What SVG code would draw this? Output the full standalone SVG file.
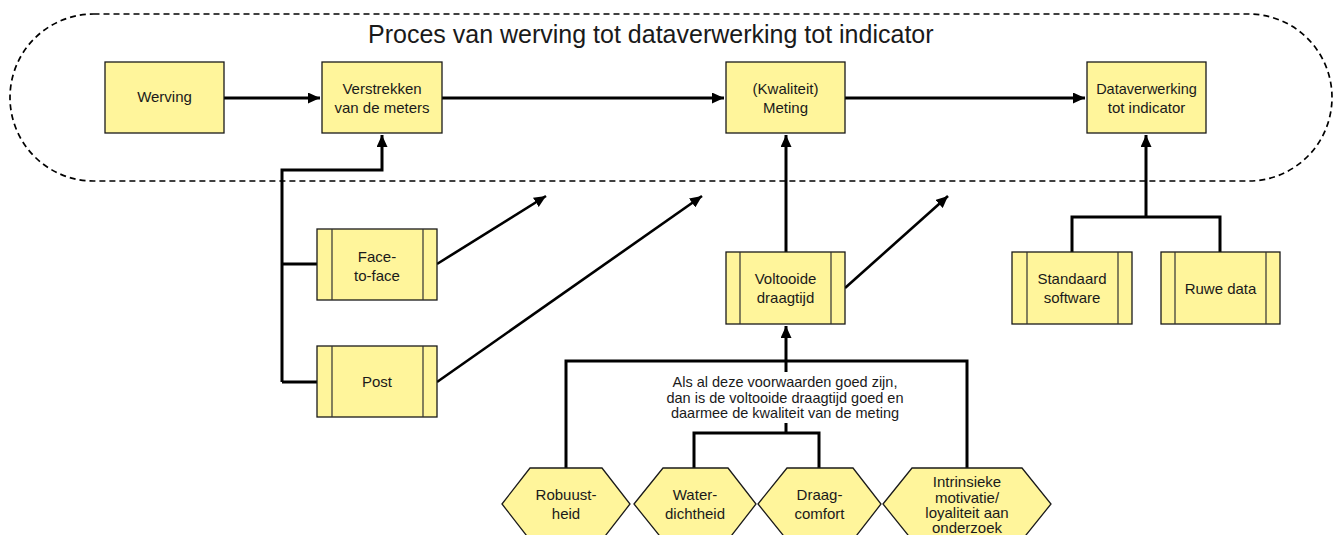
<svg xmlns="http://www.w3.org/2000/svg" width="1338" height="535" viewBox="0 0 1338 535">
<style>
  .t{font-family:"Liberation Sans",Arial,sans-serif;font-size:15px;fill:#1a1a1a;text-anchor:middle}
  .s{font-size:14.5px}
  .title{font-family:"Liberation Sans",Arial,sans-serif;font-size:25px;fill:#1a1a1a}
  .box{fill:#fff59b;stroke:#1a1a1a;stroke-width:1.3}
  .bar{stroke:#333;stroke-width:1.2;fill:none}
  .c{fill:none;stroke:#000;stroke-width:3}
  .d{fill:none;stroke:#000;stroke-width:2.6}
</style>
<defs>
  <marker id="ah" markerUnits="userSpaceOnUse" markerWidth="13" markerHeight="11" refX="12" refY="5.5" orient="auto">
    <path d="M0,0 L12,5.5 L0,11 z" fill="#000"/>
  </marker>
</defs>
<rect width="1338" height="535" fill="#fff"/>
<g id="process-boundary">
  <rect x="10" y="14" width="1322" height="167" rx="83.5" ry="83.5" fill="none" stroke="#000" stroke-width="1.7" stroke-dasharray="6 4"/>
  <text class="title" x="368" y="43">Proces van werving tot dataverwerking tot indicator</text>
</g>
<g id="connectors">
  <path class="c" d="M224,98 H320" marker-end="url(#ah)"/>
  <path class="c" d="M442,98 H724" marker-end="url(#ah)"/>
  <path class="c" d="M845,98 H1085" marker-end="url(#ah)"/>
  <path class="c" d="M282,382 V170 H382 V135" marker-end="url(#ah)"/>
  <path class="c" d="M282,264 H317 M282,382 H317"/>
  <path class="d" d="M437,264 L546,196" marker-end="url(#ah)"/>
  <path class="d" d="M437,382 L702,196" marker-end="url(#ah)"/>
  <path class="d" d="M845,288 L948,196" marker-end="url(#ah)"/>
  <path class="c" d="M786,252 V135" marker-end="url(#ah)"/>
  <path class="c" d="M1072,252 V217 H1220 V252 M1146,217 V135" marker-end="url(#ah)"/>
  <path class="c" d="M786,372 V326" marker-end="url(#ah)"/>
  <path class="c" d="M566,468 V361 H967 V468"/>
  <path class="c" d="M786,423 V433 M694,468 V433 H819 V468"/>
</g>
<g id="werving">
  <rect class="box" x="105" y="62" width="119" height="71"/>
  <text class="t" x="164.5" y="102">Werving</text>
</g>
<g id="verstrekken">
  <rect class="box" x="322" y="62" width="120" height="71"/>
  <text class="t" x="382" y="94">Verstrekken</text>
  <text class="t" x="382" y="113">van de meters</text>
</g>
<g id="meting">
  <rect class="box" x="726" y="62" width="119" height="71"/>
  <text class="t" x="785.5" y="94">(Kwaliteit)</text>
  <text class="t" x="785.5" y="113">Meting</text>
</g>
<g id="dataverwerking">
  <rect class="box" x="1087" y="62" width="119" height="71"/>
  <text class="t s" x="1146.5" y="94">Dataverwerking</text>
  <text class="t" x="1146.5" y="113">tot indicator</text>
</g>
<g id="face-to-face">
  <rect class="box" x="317" y="229" width="120" height="71"/>
  <path class="bar" d="M332,229 V300 M423,229 V300"/>
  <text class="t" x="377" y="262">Face-</text>
  <text class="t" x="377" y="281">to-face</text>
</g>
<g id="post">
  <rect class="box" x="317" y="346" width="120" height="71"/>
  <path class="bar" d="M332,346 V417 M423,346 V417"/>
  <text class="t" x="377" y="387">Post</text>
</g>
<g id="voltooide-draagtijd">
  <rect class="box" x="726" y="252" width="119" height="72"/>
  <path class="bar" d="M740,252 V324 M831,252 V324"/>
  <text class="t" x="785.5" y="284">Voltooide</text>
  <text class="t" x="785.5" y="303">draagtijd</text>
</g>
<g id="standaard-software">
  <rect class="box" x="1012" y="252" width="120" height="72"/>
  <path class="bar" d="M1027,252 V324 M1118,252 V324"/>
  <text class="t" x="1072" y="284">Standaard</text>
  <text class="t" x="1072" y="303">software</text>
</g>
<g id="ruwe-data">
  <rect class="box" x="1161" y="252" width="119" height="72"/>
  <path class="bar" d="M1175,252 V324 M1266,252 V324"/>
  <text class="t" x="1220.5" y="294">Ruwe data</text>
</g>
<g id="voorwaarden-label">
  <text class="t s" x="785" y="387">Als al deze voorwaarden goed zijn,</text>
  <text class="t s" x="785" y="403">dan is de voltooide draagtijd goed en</text>
  <text class="t s" x="785" y="418">daarmee de kwaliteit van de meting</text>
</g>
<g id="robuustheid">
  <polygon class="box" points="502,504 530,468 602,468 630,504 602,540 530,540"/>
  <text class="t" x="566" y="500">Robuust-</text>
  <text class="t" x="566" y="519">heid</text>
</g>
<g id="waterdichtheid">
  <polygon class="box" points="634,504 663,468 728,468 756,504 728,540 663,540"/>
  <text class="t" x="695" y="500">Water-</text>
  <text class="t" x="695" y="519">dichtheid</text>
</g>
<g id="draagcomfort">
  <polygon class="box" points="758,504 787,468 853,468 881,504 853,540 787,540"/>
  <text class="t" x="819.5" y="500">Draag-</text>
  <text class="t" x="819.5" y="519">comfort</text>
</g>
<g id="intrinsieke-motivatie">
  <polygon class="box" points="883,504 912,468 1022,468 1051,504 1022,540 912,540"/>
  <text class="t" x="967" y="487">Intrinsieke</text>
  <text class="t" x="967" y="503">motivatie/</text>
  <text class="t" x="967" y="518">loyaliteit aan</text>
  <text class="t" x="967" y="533">onderzoek</text>
</g>
</svg>
